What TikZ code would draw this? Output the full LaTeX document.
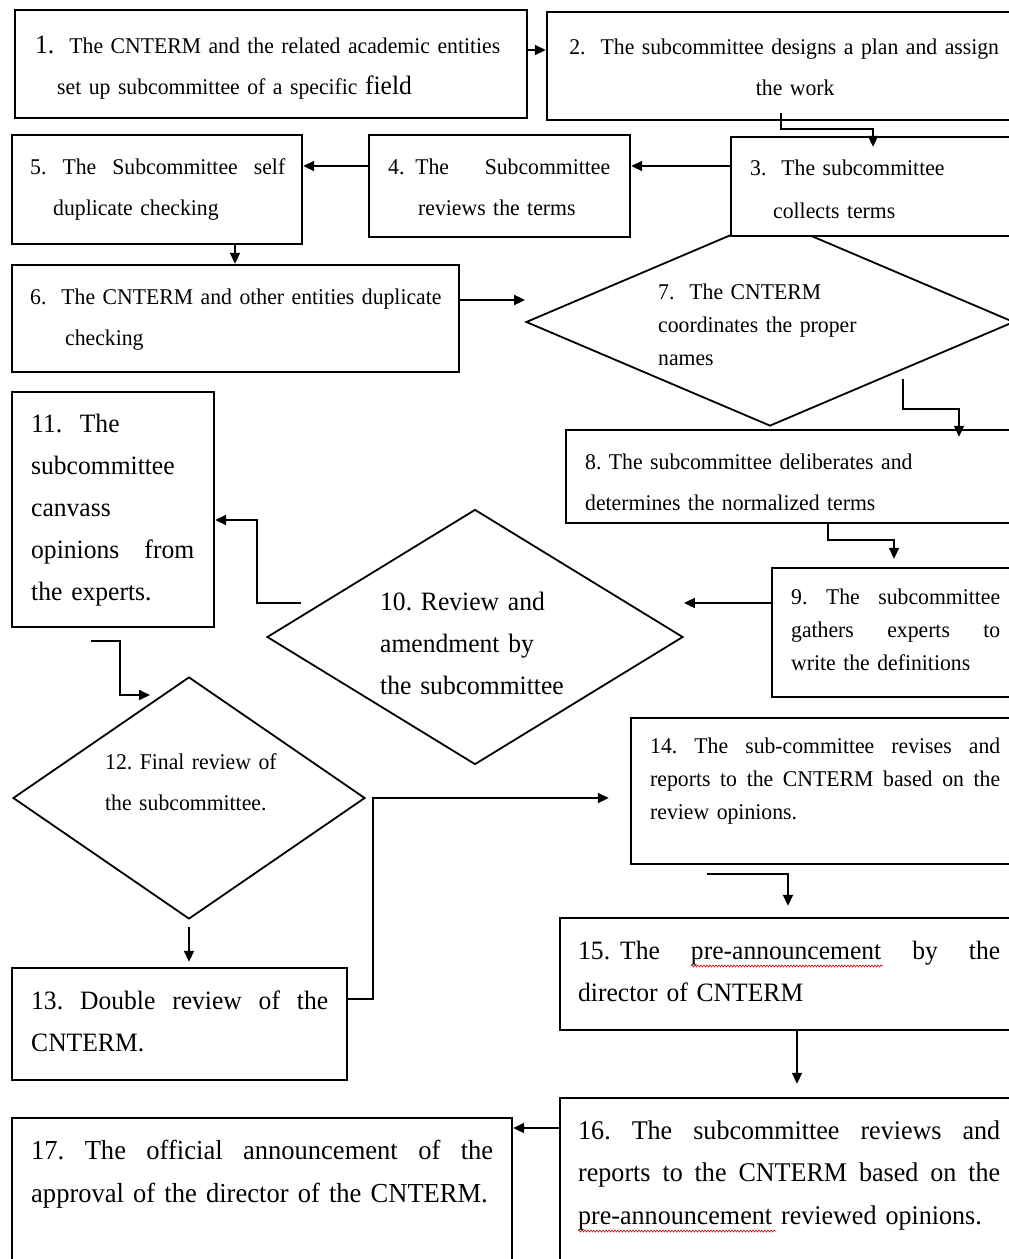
\documentclass[tikz,border=0pt]{standalone}
\usepackage{fontspec}
\setmainfont{Liberation Serif}[FakeStretch=0.965]
\usetikzlibrary{arrows.meta,shapes.geometric,decorations.pathmorphing}
\newcommand\stdf{\fontsize{22.5}{41}\selectfont}
\newcommand\stdtight{\fontsize{22.5}{33}\selectfont}
\newcommand\bigf{\fontsize{26.5}{42}\selectfont}
\newcommand\hb[2]{\leavevmode\hbox to #1pt{\spaceskip=\fontdimen2\font plus 1fil\relax #2}}
\newcommand\bxat[5]{\node[bx, minimum width={#4-#2}, minimum height={#5-#3}] (#1) at ({(#2+#4)/2},{(#3+#5)/2}) {};}
\begin{document}
\frenchspacing
\begin{tikzpicture}[x=1pt,y=-1pt,
  bx/.style={draw, line width=2.4pt, fill=white, inner sep=0pt},
  dia/.style={diamond, draw, line width=1.8pt, fill=white, inner sep=0pt},
  txt/.style={anchor=base west, inner sep=0pt, align=left},
  arr/.style={line width=1.8pt, -{Triangle[length=11pt,width=10pt]}},
  wavy/.style={red!80!black, line width=0.6pt, decorate, decoration={snake, amplitude=1pt, segment length=3pt}}]
\useasboundingbox (0,0) rectangle (1009,1259);
\fill[white] (0,0) rectangle (1009,1259);
\clip (0,0) rectangle (1009,1259);

% shapes
\node[dia, minimum width=488pt, minimum height=208pt] (d7) at (770,322) {};
\node[dia, minimum width=416pt, minimum height=255pt] (d10) at (475,637) {};
\node[dia, minimum width=352pt, minimum height=242pt] (d12) at (189,798) {};
\bxat{b1}{15}{10}{527}{118}
\bxat{b2}{547}{12}{1022}{120}
\bxat{b3}{731}{137}{1022}{236}
\bxat{b4}{369}{135}{630}{237}
\bxat{b5}{12}{135}{302}{244}
\bxat{b6}{12}{265}{459}{372}
\bxat{b8}{566}{430}{1022}{523}
\bxat{b9}{772}{568}{1022}{697}
\bxat{b11}{12}{392}{214}{627}
\bxat{b13}{12}{968}{347}{1080}
\bxat{b14}{631}{718}{1022}{864}
\bxat{b15}{560}{918}{1022}{1030}
\bxat{b16}{560}{1098}{1022}{1280}
\bxat{b17}{12}{1118}{512}{1280}

% texts
\node[txt, text width=490pt, font=\stdf] (t1) at (35,53)
  {{\bigf 1.}\ \ The CNTERM and the related academic entities\\
   \hspace*{22pt}set up subcommittee of a specific {\bigf field}};
\node[txt, text width=470pt, font=\stdf, align=center] (t2) at (549,54)
  {2.\ \ The subcommittee designs a plan and assign\\\hspace*{22pt}the work};
\node[txt, text width=250pt, font=\fontsize{22.5}{43}\selectfont] (t3) at (750,175)
  {3.\ \ The subcommittee\\\hspace*{23pt}collects terms};
\node[txt, text width=230pt, font=\stdf] (t4) at (388,174)
  {\hb{222}{4.\ \ The\hfill Subcommittee}\\\hspace*{30pt}reviews the terms};
\node[txt, text width=260pt, font=\stdf] (t5) at (30,174)
  {\hb{255}{5. The Subcommittee self}\\\hspace*{23pt}duplicate checking};
\node[txt, text width=430pt, font=\stdf] (t6) at (30,304)
  {6.\ \ The CNTERM and other entities duplicate\\\hspace*{35pt}checking};
\node[txt, text width=260pt, font=\stdtight] (t7) at (658,299)
  {7.\ \ The CNTERM\\coordinates the proper\\names};
\node[txt, text width=420pt, font=\stdf] (t8) at (585,469)
  {8. The subcommittee deliberates and\\determines the normalized terms};
\node[txt, text width=215pt, font=\stdtight] (t9) at (791,604)
  {\hb{209}{9. The subcommittee}\\\hb{209}{gathers experts to}\\write the definitions};
\node[txt, text width=250pt, font=\bigf] (t10) at (380,610)
  {10. Review and\\amendment by\\the subcommittee};
\node[txt, text width=170pt, font=\bigf] (t11) at (31,432)
  {11.\ \ The\\subcommittee\\canvass\\\hb{163}{opinions from}\\the experts.};
\node[txt, text width=220pt, font=\stdf] (t12) at (105,769)
  {12. Final review of\\the subcommittee.};
\node[txt, text width=300pt, font=\bigf] (t13) at (31,1009)
  {\hb{297}{13. Double review of the}\\CNTERM.};
\node[txt, text width=355pt, font=\stdtight] (t14) at (650,753)
  {\hb{350}{14. The sub-committee revises and}\\\hb{350}{reports to the CNTERM based on the}\\review opinions.};
\node[txt, text width=425pt, font=\bigf] (t15) at (578,959)
  {\hb{422}{15.\kern10pt The pre-announcement by the}\\director of CNTERM};
\node[txt, text width=425pt, font=\fontsize{27}{42.5}\selectfont] (t16) at (578,1139)
  {\hb{422}{16. The subcommittee reviews and}\\\hb{422}{reports to the CNTERM based on the}\\pre-announcement reviewed opinions.};
\node[txt, text width=470pt, font=\fontsize{27.5}{43}\selectfont] (t17) at (31,1159)
  {\hb{462}{17. The official announcement of the}\\approval of the director of the CNTERM.};

% spell-check underlines
\draw[wavy] (691,966) -- (883,966);
\draw[wavy] (578,1231) -- (776,1231);

% connectors
\draw[arr] (b1.east |- 0,50) -- (b2.west |- 0,50);
\draw[arr] (b2.south -| 781,0) ++(0,-8) -- ++(0,16) -| ([yshift=-11pt]b3.north -| 873,0);
\draw[arr] (b3.west |- 0,166) -- (b4.east |- 0,166);
\draw[arr] (b4.west |- 0,166) -- (b5.east |- 0,166);
\draw[arr] (b5.south -| 235,0) -- (b6.north -| 235,0);
\draw[arr] (b6.east |- 0,300) -- (d7.west |- 0,300);
\draw[arr] (d7.south -| 903,0) ++(0,-48) -- ++(0,30) -| ([yshift=-8pt]b8.north -| 959,0);
\draw[arr] (b8.south -| 828,0) -- ++(0,16) -| ([yshift=8pt]b9.north -| 894,0);
\draw[arr] (b9.west |- 0,603) -- (d10.east |- 0,603);
\draw[arr] (d10.west |- 0,603) ++(35,0) -| (257,520) -- (b11.east |- 0,520);
\draw[arr] (b11.south -| 91,0) ++(0,13) -| (120,695) -- ([xshift=-39pt]d12.north |- 0,695);
\draw[arr] (d12.south) ++(0,7) -- ([yshift=5pt]b13.north -| d12.south);
\draw[arr] (b13.east |- 0,999) -- ++(25,0) |- ([xshift=-21pt]b14.west |- 0,798);
\draw[arr] (b14.south -| 707,0) ++(0,9) -| ([yshift=11pt]b15.north -| 788,0);
\draw[arr] (b15.south -| 797,0) -- ([yshift=13pt]b16.north -| 797,0);
\draw[arr] (b16.west |- 0,1128) -- (b17.east |- 0,1128);
\end{tikzpicture}
\end{document}
